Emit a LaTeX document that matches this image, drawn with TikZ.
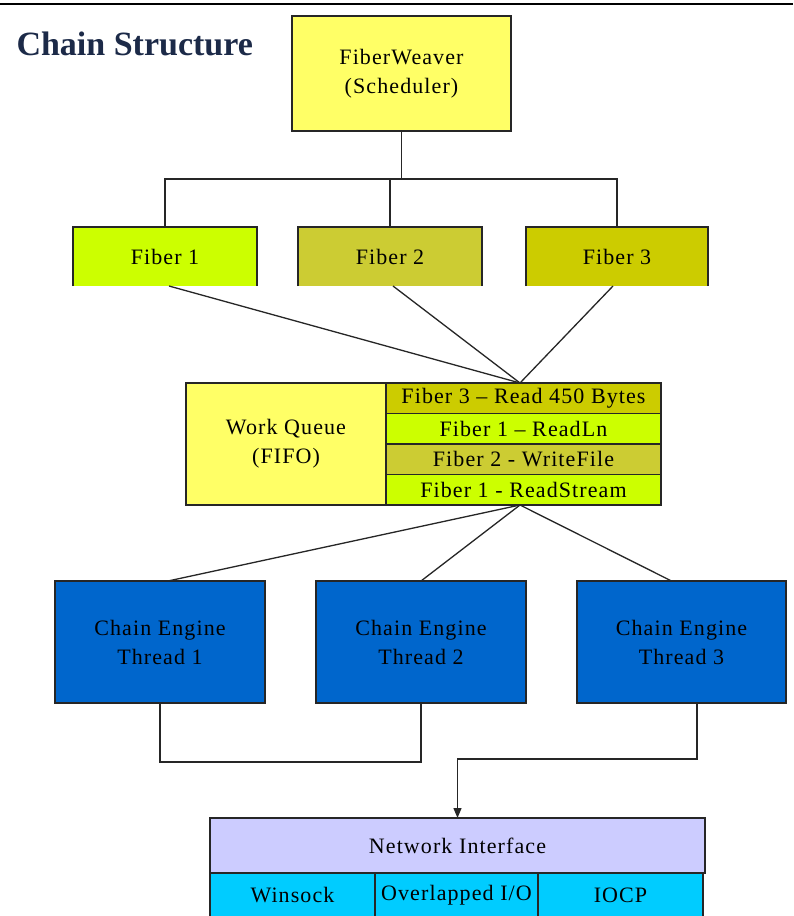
\documentclass[tikz,border=0pt]{standalone}
\usepackage{fontspec}
\setmainfont{Liberation Serif}
\newfontfamily\boxfont[LetterSpace=5]{Liberation Serif}
\usetikzlibrary{arrows.meta}
\definecolor{qyellow}{HTML}{FFFF66}
\definecolor{lime}{HTML}{CCFF00}
\definecolor{olive2}{HTML}{CCCC33}
\definecolor{olive3}{HTML}{CCCC00}
\definecolor{threadblue}{HTML}{0066CC}
\definecolor{netlav}{HTML}{CCCCFF}
\definecolor{netcyan}{HTML}{00CCFF}
\definecolor{titlenavy}{HTML}{1C2A48}
\begin{document}
\begin{tikzpicture}[x=1pt,y=-1pt,
  box/.style={draw=black!85, line width=1.6pt, inner sep=0pt, outer sep=0pt, align=center,
    font=\boxfont\fontsize{22}{29}\selectfont},
  openbox/.style={inner sep=0pt, outer sep=0pt, align=center, font=\boxfont\fontsize{22}{29}\selectfont},
  rowbox/.style={box, minimum width=275pt, minimum height=30.5pt},
  fiberbox/.style={openbox, minimum height=59pt},
  threadbox/.style={box, fill=threadblue, minimum width=210pt, minimum height=122pt},
  conn/.style={draw=black!85, line width=1.3pt},
  edge/.style={draw=black!85, line width=1.6pt}]
\clip (0,0) rectangle (793,916);
\fill[white] (0,0) rectangle (793,916);
\draw[line width=2.5pt] (0,4) -- (793,4);
\node[anchor=west, font=\fontsize{34}{38}\selectfont\bfseries, text=titlenavy] (title) at (13,44) {Chain Structure};

% scheduler
\node[box, fill=qyellow, minimum width=219pt, minimum height=115pt] (fw) at (401.5,73.5) {FiberWeaver\\(Scheduler)};

% fibers
\node[fiberbox, fill=lime, minimum width=184pt] (f1) at (165,256.5) {Fiber 1};
\node[fiberbox, fill=olive2, minimum width=184pt] (f2) at (390,256.5) {Fiber 2};
\node[fiberbox, fill=olive3, minimum width=182pt] (f3) at (617,256.5) {Fiber 3};
\foreach \f in {f1,f2,f3}{
  \draw[edge] (\f.south west) -- (\f.north west) -- (\f.north east) -- (\f.south east);
}

\coordinate (hub) at (401.5,179);
\draw[conn] (fw.south) -- (fw.south |- hub);
\draw[conn] (f1.north) -- (f1.north |- hub) -- (f3.north |- hub) -- (f3.north);
\draw[conn] (f2.north) -- (f2.north |- hub);

% work queue
\node[box, fill=qyellow, minimum width=200pt, minimum height=122pt] (wq) at (286,444) {Work Queue\\(FIFO)};
\node[rowbox, fill=olive3] (r1) at (523.5,398.25) {Fiber 3 – Read 450 Bytes};
\node[rowbox, fill=lime] (r2) at (523.5,428.75) {Fiber 1 – ReadLn};
\node[rowbox, fill=olive2] (r3) at (523.5,459.25) {Fiber 2 - WriteFile};
\node[rowbox, fill=lime] (r4) at (523.5,489.75) {Fiber 1 - ReadStream};

\coordinate (qin) at (520,383);
\coordinate (qout) at (520,505);
\draw[conn] ([xshift=4pt]f1.south) -- (qin);
\draw[conn] ([xshift=3pt]f2.south) -- (qin);
\draw[conn] ([xshift=-4pt]f3.south) -- (qin);

% threads
\node[threadbox] (t1) at (160,642) {Chain Engine\\Thread 1};
\node[threadbox] (t2) at (421,642) {Chain Engine\\Thread 2};
\node[threadbox, minimum width=209pt] (t3) at (681.5,642) {Chain Engine\\Thread 3};

\draw[conn] (qout) -- ([xshift=8pt]t1.north);
\draw[conn] (qout) -- (t2.north);
\draw[conn] (qout) -- ([xshift=-10pt]t3.north);

% network interface
\node[box, fill=netlav, minimum width=495pt, minimum height=55pt] (ni) at (457.5,845.5) {Network Interface};
\node[box, fill=netcyan, minimum width=165pt, minimum height=44pt] (ws) at (292.5,895) {Winsock};
\node[box, fill=netcyan, minimum width=163pt, minimum height=44pt] (ov) at (456.5,895) {Overlapped I/O};
\node[box, fill=netcyan, minimum width=165pt, minimum height=44pt] (io) at (620.5,895) {IOCP};

\draw[conn] (t1.south) -- ++(0,59) -| (t2.south);
\draw[conn, -{Triangle[length=10pt,width=8pt]}] ([xshift=15.5pt]t3.south) -- ++(0,56) -| (ni.north);
\end{tikzpicture}
\end{document}
